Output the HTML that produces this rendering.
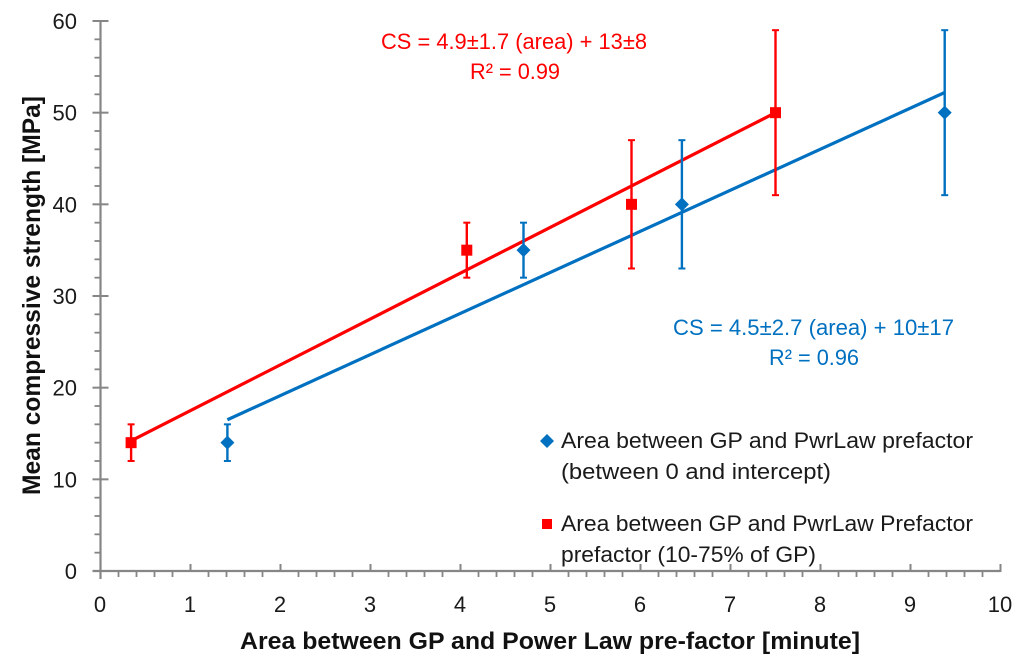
<!DOCTYPE html>
<html lang="en">
<head>
<meta charset="utf-8">
<title>Mean compressive strength vs area</title>
<style>
html,body{margin:0;padding:0;background:#fff;}
svg{display:block;font-family:"Liberation Sans",sans-serif;}
</style>
</head>
<body>
<svg id="chart" width="1024" height="667" viewBox="0 0 1024 667" xmlns="http://www.w3.org/2000/svg">
  <g id="axes"></g>
  <g id="series"></g>

  <text x="240" y="649" font-size="24" font-weight="bold" fill="#111" textLength="620" lengthAdjust="spacingAndGlyphs">Area between GP and Power Law pre-factor [minute]</text>
  <text transform="translate(40,495) rotate(-90)" font-size="25" font-weight="bold" fill="#111" textLength="399" lengthAdjust="spacingAndGlyphs">Mean compressive strength [MPa]</text>

  <text x="381" y="49" font-size="22.5" fill="#ff0000" textLength="266" lengthAdjust="spacingAndGlyphs">CS = 4.9±1.7 (area) + 13±8</text>
  <text x="470" y="79" font-size="22.5" fill="#ff0000" textLength="90" lengthAdjust="spacingAndGlyphs">R² = 0.99</text>
  <text x="673" y="335" font-size="22.5" fill="#0070c0" textLength="281" lengthAdjust="spacingAndGlyphs">CS = 4.5±2.7 (area) + 10±17</text>
  <text x="769" y="365" font-size="22.5" fill="#0070c0" textLength="90" lengthAdjust="spacingAndGlyphs">R² = 0.96</text>

  <g>
    <polygon points="547,434 554,441 547,448 540,441" fill="#0070c0"/>
    <text x="561" y="448" font-size="22.5" fill="#1a1a1a" textLength="412" lengthAdjust="spacingAndGlyphs">Area between GP and PwrLaw prefactor</text>
    <text x="561" y="479" font-size="22.5" fill="#1a1a1a" textLength="270" lengthAdjust="spacingAndGlyphs">(between 0 and intercept)</text>
    <rect x="542" y="519" width="10" height="10" fill="#ff0000"/>
    <text x="561" y="531" font-size="22.5" fill="#1a1a1a" textLength="412" lengthAdjust="spacingAndGlyphs">Area between GP and PwrLaw Prefactor</text>
    <text x="561" y="562" font-size="22.5" fill="#1a1a1a" textLength="255" lengthAdjust="spacingAndGlyphs">prefactor (10-75% of GP)</text>
  </g>
</svg>
<script>
var xTickLabels = [0, 1, 2, 3, 4, 5, 6, 7, 8, 9, 10];
var yTickLabels = [0, 10, 20, 30, 40, 50, 60];
var xMinorValues = [0.2, 0.4, 0.6, 0.8];
var yMinorValues = [2, 4, 6, 8];

var blueX = [1.41, 4.70, 6.46, 9.38];
var blueY = [14, 35, 40, 50];
var blueErr = [2, 3, 7, 9];
var blueFitX = [1.41, 9.38];
var blueFitY = [16.5, 52.2];

var redX = [0.34, 4.07, 5.90, 7.50];
var redY = [14, 35, 40, 50];
var redErr = [2, 3, 7, 9];
var redFitX = [0.34, 7.50];
var redFitY = [14.2, 50];

var NS = 'http://www.w3.org/2000/svg';
function sx(v) { return 100.5 + v * 90; }
function sy(v) { return 571 - v * 55 / 6; }
function make(parent, tag, attrs, text) {
  var el = document.createElementNS(NS, tag);
  for (var k in attrs) { el.setAttribute(k, attrs[k]); }
  if (text !== undefined) { el.textContent = text; }
  parent.appendChild(el);
  return el;
}

var axes = document.getElementById('axes');
var axisColor = '#868686';
var el;

el = make(axes, 'line', {x1: sx(0) - 8, y1: sy(0), x2: sx(10), y2: sy(0), stroke: axisColor, 'stroke-width': 2.2});


el = make(axes, 'line', {x1: sx(0), y1: sy(0) + 8, x2: sx(0), y2: sy(60), stroke: axisColor, 'stroke-width': 2.2});



xTickLabels.forEach(function (v, i) {
  var t = make(axes, 'line', {x1: sx(v), y1: sy(0) - 7, x2: sx(v), y2: sy(0) + 1, stroke: axisColor, 'stroke-width': 2});
  
  
  var l = make(axes, 'text', {x: sx(v) - 0.5, y: 612, 'text-anchor': 'middle', 'font-size': 22, fill: '#1a1a1a'}, String(v));
  
  
  if (i < xTickLabels.length - 1) {
    xMinorValues.forEach(function (m) {
      var n = make(axes, 'line', {x1: sx(v + m), y1: sy(0), x2: sx(v + m), y2: sy(0) + 6, stroke: axisColor, 'stroke-width': 1.8});
      
      
    });
  }
});

yTickLabels.forEach(function (v, i) {
  var t = make(axes, 'line', {x1: sx(0) - 8, y1: sy(v), x2: sx(0) + (v === 0 ? 0 : 8), y2: sy(v), stroke: axisColor, 'stroke-width': 2});
  
  
  var l = make(axes, 'text', {x: 77, y: sy(v) + 8, 'text-anchor': 'end', 'font-size': 22, fill: '#1a1a1a'}, String(v));
  
  
  if (i < yTickLabels.length - 1) {
    yMinorValues.forEach(function (m) {
      var n = make(axes, 'line', {x1: sx(0) - 6, y1: sy(v + m), x2: sx(0), y2: sy(v + m), stroke: axisColor, 'stroke-width': 1.8});
      
      
    });
  }
});

var seriesG = document.getElementById('series');

function drawErrors(xs, ys, errs, color, key) {
  xs.forEach(function (x, i) {
    var px = sx(x), hi = sy(ys[i] + errs[i]), lo = sy(ys[i] - errs[i]);
    var s = make(seriesG, 'line', {x1: px, y1: hi, x2: px, y2: lo, stroke: color, 'stroke-width': 2.4});
    
    
    var c1 = make(seriesG, 'line', {x1: px - 3.5, y1: hi, x2: px + 3.5, y2: hi, stroke: color, 'stroke-width': 2});
    
    
    var c2 = make(seriesG, 'line', {x1: px - 3.5, y1: lo, x2: px + 3.5, y2: lo, stroke: color, 'stroke-width': 2});
    
    
  });
}

function drawFit(xs, ys, color, key) {
  var f = make(seriesG, 'line', {x1: sx(xs[0]), y1: sy(ys[0]), x2: sx(xs[1]), y2: sy(ys[1]), stroke: color, 'stroke-width': 3.2});
  
  
}

drawFit(blueFitX, blueFitY, '#0070c0', 'blue');
drawFit(redFitX, redFitY, '#ff0000', 'red');
drawErrors(blueX, blueY, blueErr, '#0070c0', 'blue');
drawErrors(redX, redY, redErr, '#ff0000', 'red');

blueX.forEach(function (x, i) {
  var px = sx(x), py = sy(blueY[i]);
  var d = make(seriesG, 'polygon', {points: px + ',' + (py - 7) + ' ' + (px + 7) + ',' + py + ' ' + px + ',' + (py + 7) + ' ' + (px - 7) + ',' + py, fill: '#0070c0'});
  
  
});
redX.forEach(function (x, i) {
  var px = sx(x), py = sy(redY[i]);
  var r = make(seriesG, 'rect', {x: px - 5.5, y: py - 5.5, width: 11, height: 11, fill: '#ff0000'});
  
  
});
</script>
</body>
</html>
